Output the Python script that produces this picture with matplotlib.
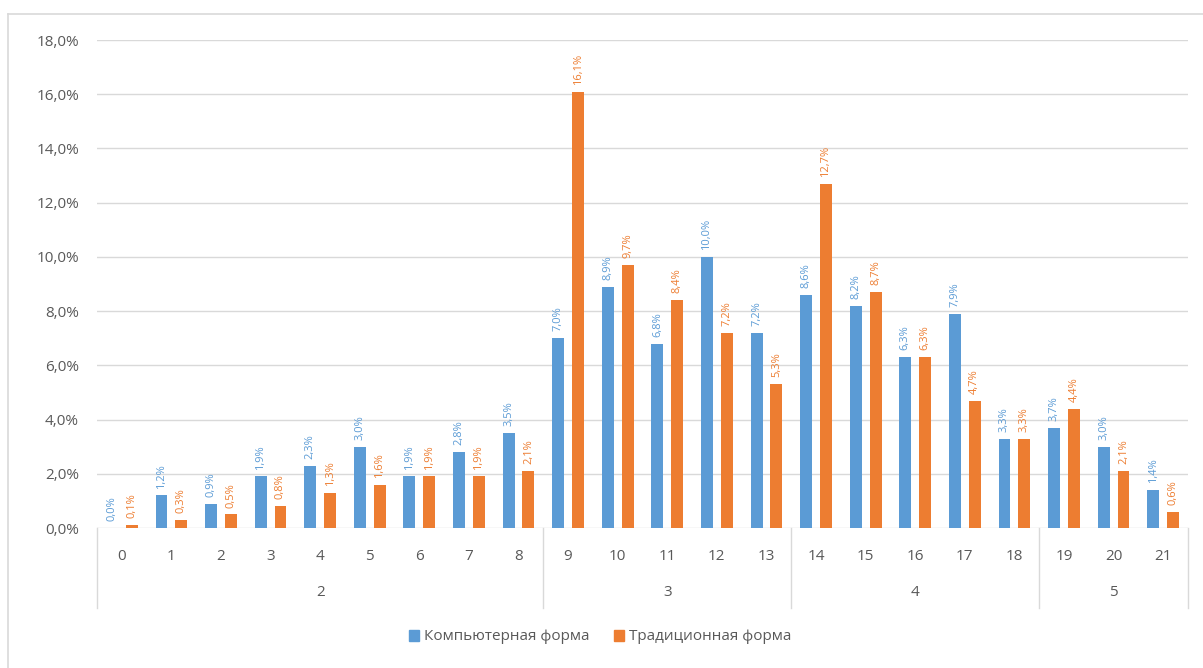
import matplotlib
matplotlib.use("Agg")
import matplotlib.pyplot as plt
import numpy as np
from matplotlib.transforms import blended_transform_factory
from matplotlib.lines import Line2D
from matplotlib.patches import Patch

categories = [str(i) for i in range(22)]
groups = ["2", "3", "4", "5"]
group_sizes = [9, 5, 5, 3]
computer = [0.0, 1.2, 0.9, 1.9, 2.3, 3.0, 1.9, 2.8, 3.5, 7.0, 8.9, 6.8, 10.0, 7.2,
            8.6, 8.2, 6.3, 7.9, 3.3, 3.7, 3.0, 1.4]
traditional = [0.1, 0.3, 0.5, 0.8, 1.3, 1.6, 1.9, 1.9, 2.1, 16.1, 9.7, 8.4, 7.2, 5.3,
               12.7, 8.7, 6.3, 4.7, 3.3, 4.4, 2.1, 0.6]
series_names = ["Компьютерная форма", "Традиционная форма"]

BLUE = "#5B9BD5"
ORANGE = "#ED7D31"
TXT = "#595959"
GRID = "#D9D9D9"
plt.rcParams['font.family'] = ['Open Sans', 'DejaVu Sans']

W, H = 1203, 668
fig = plt.figure(figsize=(W / 100, H / 100), dpi=100)
ax = fig.add_axes([97 / W, 1 - 528 / H, (1188 - 97) / W, (528 - 40) / H])

x = np.arange(len(categories))
bw = 0.24
off = 0.2
ax.bar(x - off, computer, bw, color=BLUE, zorder=3)
ax.bar(x + off, traditional, bw, color=ORANGE, zorder=3)

def fmt(v):
    return f"{v:.1f}%".replace(".", ",")

for xs, vals, col in [(x - off, computer, BLUE), (x + off, traditional, ORANGE)]:
    for xi, v in zip(xs, vals):
        ax.annotate(fmt(v), (xi, v), xytext=(0, 5), textcoords="offset points",
                    rotation=90, ha="center", va="bottom", fontsize=8, color=col,
                    zorder=4)

ax.set_xlim(-0.5, len(categories) - 0.5)
ax.set_ylim(0, 18)
yt = np.arange(0, 18.1, 2)
ax.set_yticks(yt)
ax.set_yticklabels([fmt(v) for v in yt], fontsize=11, color=TXT)
ax.tick_params(axis="y", length=0, pad=13)
ax.grid(axis="y", color=GRID, linewidth=1, zorder=0)
for s in ax.spines.values():
    s.set_visible(False)

ax.set_xticks(x)
ax.set_xticklabels(categories, fontsize=11, color=TXT)
ax.tick_params(axis="x", length=0, pad=15)

tr = blended_transform_factory(ax.transData, ax.transAxes)
ybot = -(608 - 528) / (528 - 40)
ygrp = -(593 - 528) / (528 - 40)
start = -0.5
bounds = [start]
for g, n in zip(groups, group_sizes):
    end = start + n
    ax.text((start + end) / 2, ygrp, g, transform=tr, ha="center", va="center",
            fontsize=11, color=TXT)
    bounds.append(end)
    start = end
for b in bounds:
    ax.add_line(Line2D([b, b], [0, ybot], transform=tr, color=GRID, linewidth=1,
                       clip_on=False))

handles = [Patch(color=BLUE), Patch(color=ORANGE)]
fig.legend(handles, series_names, loc="center", bbox_to_anchor=(600 / W, 1 - 637 / H),
           ncol=2, frameon=False, fontsize=11, labelcolor=TXT,
           handlelength=0.7, handleheight=0.7, handletextpad=0.3, columnspacing=1.6)

# outer chart frame
fig.add_artist(Line2D([8 / W, 8 / W], [0, 1 - 14 / H], transform=fig.transFigure,
                      color=GRID, linewidth=1.2))
fig.add_artist(Line2D([8 / W, 1], [1 - 14 / H, 1 - 14 / H], transform=fig.transFigure,
                      color=GRID, linewidth=1.2))

fig.savefig("out.png", dpi=100)
